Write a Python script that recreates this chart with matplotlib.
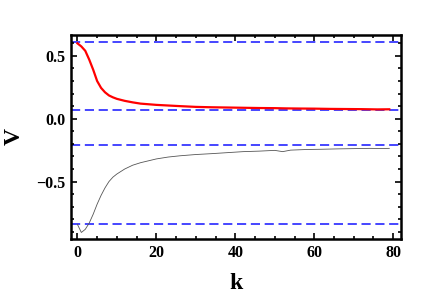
import matplotlib
matplotlib.use("Agg")
import matplotlib.pyplot as plt
from matplotlib.ticker import MultipleLocator

k_red = [0, 1, 2, 3, 4, 5, 6, 7, 8, 9, 10, 12, 14, 16, 18, 20, 23, 26, 30, 34, 38,
         42, 46, 50, 53, 56, 60, 64, 68, 72, 76, 79]
v_red = [0.60, 0.575, 0.54, 0.47, 0.39, 0.30, 0.245, 0.21, 0.185, 0.17, 0.158, 0.142,
         0.13, 0.12, 0.115, 0.11, 0.105, 0.10, 0.094, 0.091, 0.089, 0.087, 0.085, 0.084,
         0.082, 0.081, 0.080, 0.078, 0.077, 0.076, 0.074, 0.075]

k_blk = [0, 1, 2, 3, 4, 5, 6, 7, 8, 9, 10, 12, 14, 16, 18, 20, 23, 26, 30, 34, 38,
         42, 46, 50, 52, 54, 58, 62, 66, 70, 74, 77, 79]
v_blk = [-0.84, -0.905, -0.88, -0.83, -0.76, -0.68, -0.61, -0.55, -0.50, -0.465, -0.44,
         -0.40, -0.37, -0.35, -0.335, -0.32, -0.305, -0.295, -0.285, -0.278, -0.27,
         -0.262, -0.258, -0.252, -0.262, -0.25, -0.245, -0.243, -0.24, -0.238, -0.236,
         -0.237, -0.236]

ref_levels = [0.61, 0.066, -0.213, -0.838]

x_ticks = [0, 20, 40, 60, 80]
y_ticks = [-0.5, 0.0, 0.5]
y_tick_labels = ["\u22120.5", "0.0", "0.5"]

plt.rcParams['font.family'] = ['Liberation Serif', 'DejaVu Serif']
plt.rcParams['font.weight'] = 'bold'

fig = plt.figure(figsize=(4.36, 2.98), dpi=100)
ax = fig.add_axes([0.163, 0.198, 0.757, 0.685])

for lv in ref_levels:
    ax.axhline(lv, color=(0.15, 0.15, 1.0), lw=1.2, ls=(0, (5.5, 2.8)), zorder=1)

ax.plot(k_blk, v_blk, color='#555555', lw=0.6, zorder=2)
ax.plot(k_red, v_red, color='red', lw=1.6, zorder=3)

ax.set_xlim(-1.6, 82)
ax.set_ylim(-0.957, 0.667)
ax.set_xticks(x_ticks)
ax.set_yticks(y_ticks)
ax.set_yticklabels(y_tick_labels)
ax.xaxis.set_minor_locator(MultipleLocator(5))
ax.yaxis.set_minor_locator(MultipleLocator(0.1))
ax.tick_params(which='both', direction='in', top=True, right=True, width=1.2)
ax.tick_params(which='major', length=4, labelsize=11.5, pad=4)
ax.tick_params(which='minor', length=2.5)
for lab in ax.get_xticklabels() + ax.get_yticklabels():
    lab.set_fontweight('bold')
for sp in ax.spines.values():
    sp.set_linewidth(1.8)

ax.set_xlabel('k', fontsize=17, fontweight='bold', labelpad=9)
ax.set_ylabel('V', fontsize=17, fontweight='bold', labelpad=8)

fig.savefig('out.png', dpi=100)
